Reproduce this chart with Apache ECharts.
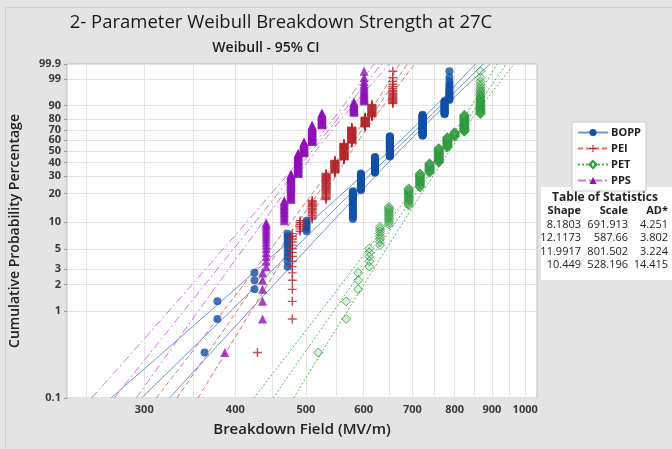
<!DOCTYPE html>
<html>
<head>
<meta charset="utf-8">
<script src="https://cdn.jsdelivr.net/npm/echarts@6.0.0/dist/echarts.min.js"></script>
<style>
  html, body { margin: 0; padding: 0; background: #e4e4e4; }
  #chart { width: 672px; height: 449px; }
</style>
</head>
<body>
<div id="chart"></div>
<script>
// breakdown field values (MV/m) and number of specimens sitting at each value
var boppField = [363, 378, 425, 472, 501, 580, 595, 622, 652, 723, 775, 787];
var boppCount = [1, 2, 3, 10, 6, 23, 22, 27, 41, 41, 19, 15];
var peiField = [429, 479, 491, 510, 533, 548, 564, 578, 603, 616, 658];
var peiCount = [1, 15, 6, 14, 31, 21, 32, 33, 19, 19, 19];
var petField = [520, 568, 590, 611, 632, 650, 692, 717, 739, 761, 782, 800, 825, 868];
var petCount = [1, 2, 3, 5, 8, 12, 17, 19, 16, 28, 22, 10, 33, 34];
var ppsField = [387, 436, 441, 467, 477, 488, 497, 510, 526, 582, 601];
var ppsCount = [1, 5, 15, 15, 30, 35, 22, 34, 22, 15, 16];

// fitted line and 95% CI bounds as [field, percent]
var boppFit = [[297.5, 0.1], [876, 99.9]];
var boppLow = [[270, 0.1], [651, 50], [854, 99.9]];
var boppHigh = [[325, 0.1], [672, 50], [895, 99.9]];
var peiFit = [[332.6, 0.1], [689, 99.9]];
var peiLow = [[311.6, 0.1], [563.6, 50], [672, 99.9]];
var peiHigh = [[355.6, 0.1], [578, 50], [705, 99.9]];
var petFit = [[450.6, 0.1], [942, 99.9]];
var petLow = [[424, 0.1], [767, 50], [915, 99.9]];
var petHigh = [[481, 0.1], [787, 50], [966, 99.9]];
var ppsFit = [[272.8, 0.1], [635, 99.9]];
var ppsLow = [[254, 0.1], [503, 50], [620, 99.9]];
var ppsHigh = [[292.5, 0.1], [516, 50], [651, 99.9]];

// table of statistics
var statShape = ['8.1803', '12.1173', '11.9917', '10.449'];
var statScale = ['691.913', '587.66', '801.502', '528.196'];
var statAD = ['4.251', '3.802', '3.224', '14.415'];

// axis ticks
var xTicks = [300, 400, 500, 600, 700, 800, 900, 1000];
var xGrid = [250, 300, 350, 400, 450, 500, 550, 600, 650, 700, 750, 800, 850, 900, 950, 1000];
var yTicks = [0.1, 1, 2, 3, 5, 10, 20, 30, 40, 50, 60, 70, 80, 90, 99, 99.9];

function lx(v) { return Math.log(v); }
function wb(pct) { var p = pct / 100; return Math.log(-Math.log(1 - p)); }

// median-rank plotting positions
function probPoints(field, count) {
  var n = 0, i, k, out = [], r = 1;
  for (i = 0; i < count.length; i++) n += count[i];
  for (i = 0; i < field.length; i++) {
    for (k = 0; k < count[i]; k++) {
      out.push([lx(field[i]), wb((r - 0.3) / (n + 0.4) * 100)]);
      r++;
    }
  }
  return out;
}
function linePts(arr) { return arr.map(function (d) { return [lx(d[0]), wb(d[1])]; }); }

var plusPath = 'path://M0,4.2H10V5.8H0Z M4.2,0H5.8V10H4.2Z';

var mats = [
  { name: 'BOPP', field: boppField, count: boppCount, fit: boppFit, lo: boppLow, hi: boppHigh,
    symbol: 'circle', size: 8, item: { color: '#1150a8' },
    line: { color: '#6d93d1', width: 1, type: 'solid' } },
  { name: 'PEI', field: peiField, count: peiCount, fit: peiFit, lo: peiLow, hi: peiHigh,
    symbol: plusPath, size: 9, item: { color: '#b3262a' },
    line: { color: '#e07070', width: 1, type: [5, 3] } },
  { name: 'PET', field: petField, count: petCount, fit: petFit, lo: petLow, hi: petHigh,
    symbol: 'diamond', size: 9, item: { color: 'rgba(60,170,75,0.22)', borderColor: '#2f9a40', borderWidth: 1 },
    line: { color: '#4fae55', width: 1, type: [2, 2] } },
  { name: 'PPS', field: ppsField, count: ppsCount, fit: ppsFit, lo: ppsLow, hi: ppsHigh,
    symbol: 'triangle', size: 9, item: { color: '#8f12b8' },
    line: { color: '#c47ad8', width: 1, type: [8, 3, 2, 3] } }
];

var series = [];
mats.forEach(function (m) {
  series.push({
    name: m.name, type: 'line', data: linePts(m.fit), showSymbol: false,
    symbol: m.symbol, itemStyle: m.item, lineStyle: m.line, z: 2, silent: true
  });
  [m.lo, m.hi].forEach(function (b) {
    series.push({
      name: m.name + ' CI', type: 'line', data: linePts(b), showSymbol: false, smooth: 0.4,
      lineStyle: m.line, itemStyle: m.item, z: 2, silent: true
    });
  });
});
mats.forEach(function (m) {
  series.push({
    name: m.name, type: 'scatter', data: probPoints(m.field, m.count),
    symbol: m.symbol, symbolSize: m.size, itemStyle: m.item, z: 3
  });
});

var tFont = '11px "Open Sans"';
var tBold = 'bold 11px "Open Sans"';
var tableGraphic = [
  { type: 'rect', shape: { x: 541, y: 187, width: 140, height: 93 }, style: { fill: '#fff' } },
  { type: 'text', style: { x: 605, y: 198, text: 'Table of Statistics', textAlign: 'center', textVerticalAlign: 'middle',
      font: 'bold 12px "Open Sans"', fill: '#222' } },
  { type: 'text', style: { x: 581, y: 211, text: 'Shape', textAlign: 'right', textVerticalAlign: 'middle', font: tBold, fill: '#222' } },
  { type: 'text', style: { x: 628, y: 211, text: 'Scale', textAlign: 'right', textVerticalAlign: 'middle', font: tBold, fill: '#222' } },
  { type: 'text', style: { x: 668, y: 211, text: 'AD*', textAlign: 'right', textVerticalAlign: 'middle', font: tBold, fill: '#222' } }
];
for (var r = 0; r < statShape.length; r++) {
  var ry = 225 + r * 13.3;
  tableGraphic.push({ type: 'text', style: { x: 581, y: ry, text: statShape[r], textAlign: 'right', textVerticalAlign: 'middle', font: tFont, fill: '#222' } });
  tableGraphic.push({ type: 'text', style: { x: 628, y: ry, text: statScale[r], textAlign: 'right', textVerticalAlign: 'middle', font: tFont, fill: '#222' } });
  tableGraphic.push({ type: 'text', style: { x: 668, y: ry, text: statAD[r], textAlign: 'right', textVerticalAlign: 'middle', font: tFont, fill: '#222' } });
}

var chart = echarts.init(document.getElementById('chart'), null, { renderer: 'canvas' });
chart.setOption({
  animation: false,
  backgroundColor: '#e4e4e4',
  textStyle: { fontFamily: '"Open Sans", sans-serif' },
  graphic: [
    { type: 'rect', shape: { x: 5.5, y: 7.5, width: 700, height: 470 }, style: { fill: 'none', stroke: '#cfcfcf', lineWidth: 1 }, z: -1 },
    { type: 'text', style: { x: 281, y: 23, text: '2- Parameter Weibull Breakdown Strength at 27C', textAlign: 'center', textVerticalAlign: 'middle',
        font: '18.5px "Open Sans"', fill: '#1a1a1a' } },
    { type: 'text', style: { x: 266, y: 48, text: 'Weibull - 95% CI', textAlign: 'center', textVerticalAlign: 'middle',
        font: '600 14px "Open Sans"', fill: '#1a1a1a' } }
  ].concat(tableGraphic),
  legend: {
    data: ['BOPP', 'PEI', 'PET', 'PPS'],
    orient: 'vertical', left: 572, top: 122,
    backgroundColor: '#fff', borderColor: '#c8c8c8', borderWidth: 1,
    padding: [5, 5, 5, 5], itemWidth: 30, itemHeight: 9, itemGap: 5,
    textStyle: { fontSize: 11, fontWeight: 'bold', color: '#222', padding: [0, 0, 0, -2] }
  },
  grid: { left: 65, top: 64, width: 472, height: 334, show: true, backgroundColor: '#fff', borderColor: '#bdbdbd', borderWidth: 1 },
  xAxis: {
    type: 'value', min: lx(235), max: lx(1038),
    name: 'Breakdown Field (MV/m)', nameLocation: 'middle', nameGap: 24,
    nameTextStyle: { fontSize: 15, fontWeight: 600, color: '#222' },
    axisLine: { show: false },
    axisTick: { show: true, length: 0, customValues: xGrid.map(lx), lineStyle: { color: 'rgba(0,0,0,0)' } },
    axisLabel: {
      customValues: xTicks.map(lx), color: '#3a3a3a', fontSize: 11, fontWeight: 'bold', margin: 6,
      formatter: function (v) { return String(Math.round(Math.exp(v) / 10) * 10); }
    },
    splitLine: { show: true, lineStyle: { color: '#e3e3e3', width: 1 } }
  },
  yAxis: {
    type: 'value', min: wb(0.1), max: wb(99.9),
    name: 'Cumulative Probability Percentage', nameLocation: 'middle', nameGap: 45, nameRotate: 90,
    nameTextStyle: { fontSize: 14, fontWeight: 600, color: '#222' },
    axisLine: { show: false },
    axisTick: { show: true, length: 3, customValues: yTicks.map(wb), lineStyle: { color: '#999' } },
    axisLabel: {
      customValues: yTicks.map(wb), color: '#3a3a3a', fontSize: 11, fontWeight: 'bold', margin: 6,
      formatter: function (v) {
        for (var k = 0; k < yTicks.length; k++) {
          if (Math.abs(wb(yTicks[k]) - v) < 1e-6) return String(yTicks[k]);
        }
        return '';
      }
    },
    splitLine: { show: true, lineStyle: { color: '#e3e3e3', width: 1 } }
  },
  series: series
});
window.addEventListener('resize', function () { chart.resize(); });
</script>
</body>
</html>
